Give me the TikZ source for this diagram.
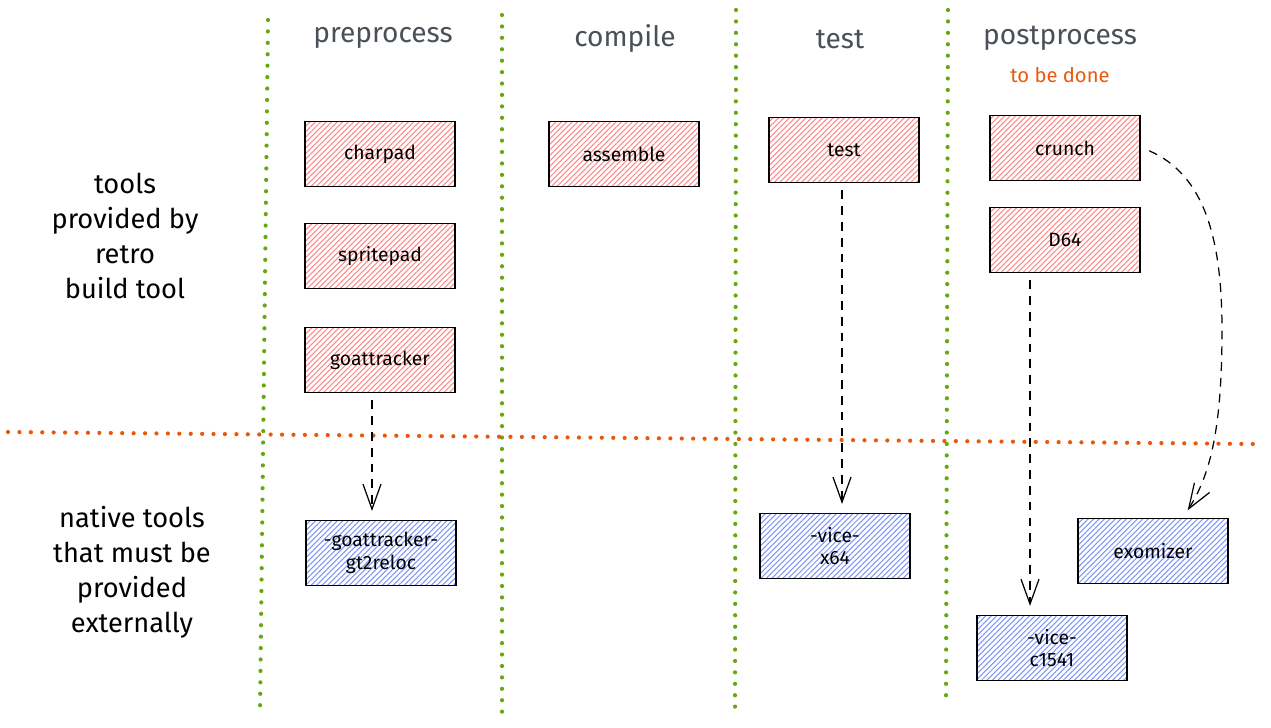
\documentclass[tikz,border=0pt]{standalone}
\usepackage{fontspec}
\setmainfont{Fira Sans}
\usetikzlibrary{arrows.meta,patterns.meta}
\definecolor{hatchred}{HTML}{FF8787}
\definecolor{hatchblue}{HTML}{7D95F7}
\definecolor{lanegreen}{HTML}{66A80F}
\definecolor{splitorange}{HTML}{E8590C}
\definecolor{headgray}{HTML}{495057}
\begin{document}
\begin{tikzpicture}[x=0.02cm,y=-0.02cm,
    tool/.style={draw=black,line width=0.9pt,minimum width=3cm,minimum height=1.3cm,
      align=center,font=\fontsize{11}{13}\selectfont,
      pattern={Lines[angle=45,distance=2.2pt,line width=0.6pt]}},
    phase/.style={font=\fontsize{16}{19}\selectfont,text=headgray},
    side/.style={align=center,font=\fontsize{15.5}{20}\selectfont},
    lane/.style={lanegreen,line width=2.4pt,line cap=round,dash pattern=on 0pt off 6.5pt},
    flow/.style={-{Straight Barb[length=5mm,width=3.6mm]},dash pattern=on 5pt off 4pt,
      line width=0.7pt,shorten <=4pt,shorten >=5pt}]
  \useasboundingbox (0,0) rectangle (1271,727);
  \def \Tools{
    charpad/380/154/hatchred/charpad,
    spritepad/380/256/hatchred/spritepad,
    goattracker/380/360/hatchred/goattracker,
    assemble/624/154/hatchred/assemble,
    test/844/150/hatchred/test,
    crunch/1065/148/hatchred/crunch,
    d64/1065/240/hatchred/D64,
    gtreloc/381/553/hatchblue/{-goattracker-\\gt2reloc},
    x64/835/546/hatchblue/{-vice-\\x64},
    exomizer/1153/551/hatchblue/exomizer,
    c1541/1052/648/hatchblue/{-vice-\\c1541}}
  \def \Phases{
    pre/383/38/preprocess,
    comp/625/39/compile,
    tst/840/39/test,
    post/1060/38/postprocess}
  % lanes
  \draw[lane] (268,20) -- (260,715);
  \draw[lane] (502,15) -- (502,715);
  \draw[lane] (736,10) -- (735,712);
  \draw[lane] (948,10) -- (946,700);
  \draw[lane,splitorange] (8,432) -- (1255,444);
  \foreach \id / \x / \y / \t in \Phases{
    \node[phase] (\id) at (\x, \y) {\t};
  }
  \node[font=\fontsize{11.5}{13}\selectfont,text=splitorange] (todo) at (1060,75) {to be done};
  \node[side] (own) at (125,236) {tools\\provided by\\retro\\build tool};
  \node[side] (ext) at (132,572) {native tools\\that must be\\provided\\externally};
  \foreach \id / \x / \y / \c / \t in \Tools{
    \node[tool,pattern color=\c] (\id) at (\x, \y) {\t};
  }
  \draw[flow] ([xshift=-0.16cm]goattracker.south) -- ([xshift=-0.16cm]goattracker.south |- gtreloc.north);
  \draw[flow] ([xshift=-0.04cm]test.south) -- ([xshift=-0.04cm]test.south |- x64.north);
  \draw[flow] ([xshift=-0.7cm]d64.south) -- ([xshift=-0.7cm]d64.south |- c1541.north);
  \draw[flow] ([xshift=0.04cm]crunch.east) .. controls (1205,175) and (1222,240) .. (1222,330)
    .. controls (1222,430) and (1210,475) .. ([xshift=0.6cm]exomizer.north);
\end{tikzpicture}
\end{document}
